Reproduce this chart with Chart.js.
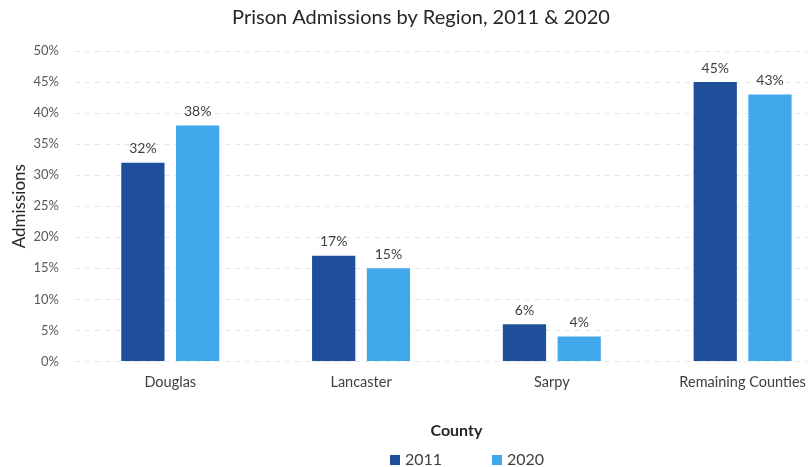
<!DOCTYPE html>
<html>
<head>
<meta charset="utf-8">
<script src="https://cdn.jsdelivr.net/npm/chart.js@4.4.1/dist/chart.umd.min.js"></script>
<style>
  html, body { margin: 0; padding: 0; background: #fff; overflow: hidden; }
  #wrap { width: 808px; height: 467px; overflow: hidden; }
</style>
</head>
<body>
<div id="wrap"><canvas id="admissions" width="844" height="467"></canvas></div>
<script>
/* ── Data ─────────────────────────────────────────────── */
const counties   = ['Douglas', 'Lancaster', 'Sarpy', 'Remaining Counties'];
const years      = ['2011', '2020'];
const pct2011    = [32, 17, 6, 45];
const pct2020    = [38, 15, 4, 43];
const yTickStep  = 5;
const yMax       = 50;

const FONT   = "Lato, 'Open Sans', sans-serif";
const COLORS = ['#1f4f9a', '#42a8ec'];

Chart.defaults.font.family = FONT;
Chart.defaults.font.size   = 13;
Chart.defaults.color       = '#595959';

/* value labels above each bar */
const barLabels = {
  id: 'barLabels',
  afterDatasetsDraw(chart) {
    const { ctx } = chart;
    ctx.save();
    ctx.font = '14px ' + FONT;
    ctx.fillStyle = '#404040';
    ctx.textAlign = 'center';
    ctx.textBaseline = 'bottom';
    chart.data.datasets.forEach((ds, i) => {
      chart.getDatasetMeta(i).data.forEach((bar, j) => {
        ctx.fillText(ds.data[j] + '%', bar.x, bar.y - 7);
      });
    });
    ctx.restore();
  },
};

/* small legend under the axis title, slightly right of centre */
const bottomLegend = {
  id: 'bottomLegend',
  afterDraw(chart) {
    const { ctx } = chart;
    const y = 460, x0 = 390, step = 102;
    ctx.save();
    ctx.font = '16px ' + FONT;
    ctx.textBaseline = 'middle';
    chart.data.datasets.forEach((ds, i) => {
      const x = x0 + i * step;
      ctx.fillStyle = ds.backgroundColor;
      ctx.fillRect(x, y - 5, 10, 10);
      ctx.fillStyle = '#404040';
      ctx.fillText(ds.label, x + 15, y);
    });
    ctx.restore();
  },
};

new Chart(document.getElementById('admissions'), {
  type: 'bar',
  data: {
    labels: counties,
    datasets: [
      {
        label: years[0],
        data: pct2011,
        backgroundColor: COLORS[0],
        categoryPercentage: 0.574,
        barPercentage: 0.79,
      },
      {
        label: years[1],
        data: pct2020,
        backgroundColor: COLORS[1],
        categoryPercentage: 0.574,
        barPercentage: 0.79,
      },
    ],
  },
  options: {
    responsive: false,
    animation: false,
    layout: { padding: { left: 4, right: 6, top: 0, bottom: 27 } },
    plugins: {
      title: {
        display: true,
        text: 'Prison Admissions by Region, 2011 & 2020',
        color: '#262626',
        font: { size: 20, weight: 'normal' },
        padding: { top: 6, bottom: 21 },
      },
      legend: { display: false },
      tooltip: { enabled: false },
    },
    scales: {
      x: {
        grid: { display: false, drawTicks: false },
        border: { display: false },
        ticks: { color: '#404040', font: { size: 14.5 }, padding: 12 },
        title: {
          display: true, text: 'County',
          color: '#262626',
          font: { size: 16, weight: 'bold' },
          padding: { top: 18, bottom: 0 },
        },
      },
      y: {
        min: 0, max: yMax,
        grid: { color: '#e6e6e6', drawTicks: false },
        border: { display: false, dash: [5, 5] },
        ticks: {
          stepSize: yTickStep,
          padding: 16,
          callback: v => v + '%',
        },
        title: {
          display: true, text: 'Admissions',
          color: '#262626',
          font: { size: 17 },
          padding: { top: 5, bottom: -12 },
        },
      },
    },
  },
  plugins: [barLabels, bottomLegend],
});
</script>
</body>
</html>
